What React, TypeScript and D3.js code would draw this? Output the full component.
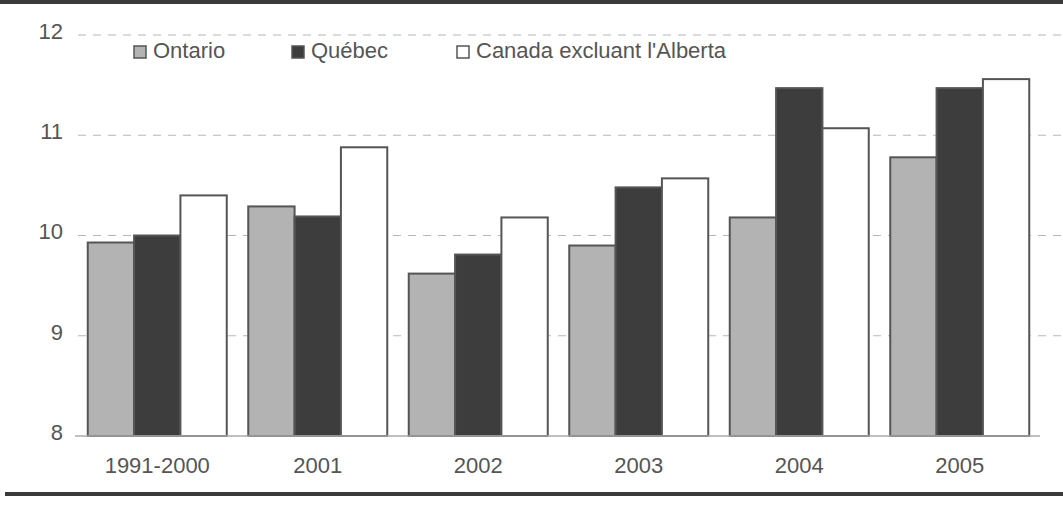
import { useEffect, useRef } from "react";
import * as d3 from "d3";

const categories = ["1991-2000", "2001", "2002", "2003", "2004", "2005"];
const seriesNames = ["Ontario", "Québec", "Canada excluant l'Alberta"];
const ontario = [9.93, 10.29, 9.62, 9.9, 10.18, 10.78];
const quebec = [10.0, 10.19, 9.81, 10.48, 11.47, 11.47];
const canada = [10.4, 10.88, 10.18, 10.57, 11.07, 11.56];
const yTicks = [8, 9, 10, 11, 12];

const fills = ["#b3b3b3", "#3d3d3d", "#ffffff"];

function App() {
  const svgRef = useRef<SVGSVGElement>(null);

  useEffect(() => {
    if (!svgRef.current) return;
    document.body.style.margin = "0";

    const svg = d3.select(svgRef.current);
    svg.selectAll("*").remove();

    const width = 1063;
    const height = 505;
    const font = "'Liberation Sans', Arial, sans-serif";
    const textColor = "#555";

    svg.attr("width", width).attr("height", height).style("display", "block");
    svg.append("rect").attr("width", width).attr("height", height).attr("fill", "#fff");

    // frame rules top and bottom
    svg.append("rect").attr("x", 0).attr("y", 0).attr("width", width).attr("height", 4).attr("fill", "#3a3a3a");
    svg.append("rect").attr("x", 5).attr("y", 492).attr("width", width - 5).attr("height", 4).attr("fill", "#3a3a3a");

    const y = d3.scaleLinear().domain([8, 12]).range([436, 35]);
    const x0 = d3
      .scaleBand<string>()
      .domain(categories)
      .range([77, 1040])
      .paddingInner(0.134)
      .paddingOuter(0.067);
    const x1 = d3.scaleBand<number>().domain([0, 1, 2]).range([0, x0.bandwidth()]);

    // dashed grid
    svg
      .append("g")
      .selectAll("line")
      .data(yTicks.filter((t) => t > 8))
      .enter()
      .append("line")
      .attr("x1", 78)
      .attr("x2", 1062)
      .attr("y1", (d) => y(d))
      .attr("y2", (d) => y(d))
      .attr("stroke", "#b8b8b8")
      .attr("stroke-width", 1.2)
      .attr("stroke-dasharray", "8,7");

    // y labels
    svg
      .append("g")
      .selectAll("text")
      .data(yTicks)
      .enter()
      .append("text")
      .attr("x", 63)
      .attr("y", (d) => y(d) - 2)
      .attr("text-anchor", "end")
      .attr("dominant-baseline", "middle")
      .attr("font-family", font)
      .attr("font-size", 22)
      .attr("fill", textColor)
      .text((d) => d);

    const data = [ontario, quebec, canada];

    const groups = svg
      .append("g")
      .selectAll("g")
      .data(categories)
      .enter()
      .append("g")
      .attr("transform", (d) => `translate(${x0(d)},0)`);

    groups
      .selectAll("rect")
      .data((_, i) => data.map((s, k) => ({ k, v: s[i] })))
      .enter()
      .append("rect")
      .attr("x", (d) => x1(d.k)!)
      .attr("y", (d) => y(d.v))
      .attr("width", x1.bandwidth())
      .attr("height", (d) => y(8) - y(d.v))
      .attr("fill", (d) => fills[d.k])
      .attr("stroke", "#555")
      .attr("stroke-width", 2);

    // baseline
    svg
      .append("line")
      .attr("x1", 75)
      .attr("x2", 1040)
      .attr("y1", y(8))
      .attr("y2", y(8))
      .attr("stroke", "#aaa")
      .attr("stroke-width", 1.5);

    // x labels
    svg
      .append("g")
      .selectAll("text")
      .data(categories)
      .enter()
      .append("text")
      .attr("x", (d) => x0(d)! + x0.bandwidth() / 2)
      .attr("y", 467)
      .attr("text-anchor", "middle")
      .attr("dominant-baseline", "middle")
      .attr("font-family", font)
      .attr("font-size", 22)
      .attr("fill", textColor)
      .text((d) => d);

    // legend
    const legendX = [134, 292, 457];
    const legend = svg
      .append("g")
      .selectAll("g")
      .data(seriesNames)
      .enter()
      .append("g")
      .attr("transform", (_, i) => `translate(${legendX[i]},52)`);
    legend
      .append("rect")
      .attr("x", 0)
      .attr("y", -6)
      .attr("width", 12)
      .attr("height", 12)
      .attr("fill", (_, i) => fills[i])
      .attr("stroke", "#555")
      .attr("stroke-width", 1.5);
    legend
      .append("text")
      .attr("x", 19)
      .attr("y", 0)
      .attr("dominant-baseline", "middle")
      .attr("font-family", font)
      .attr("font-size", 22)
      .attr("fill", textColor)
      .text((d) => d);
  }, []);

  return <svg ref={svgRef}></svg>;
}

export default App;
